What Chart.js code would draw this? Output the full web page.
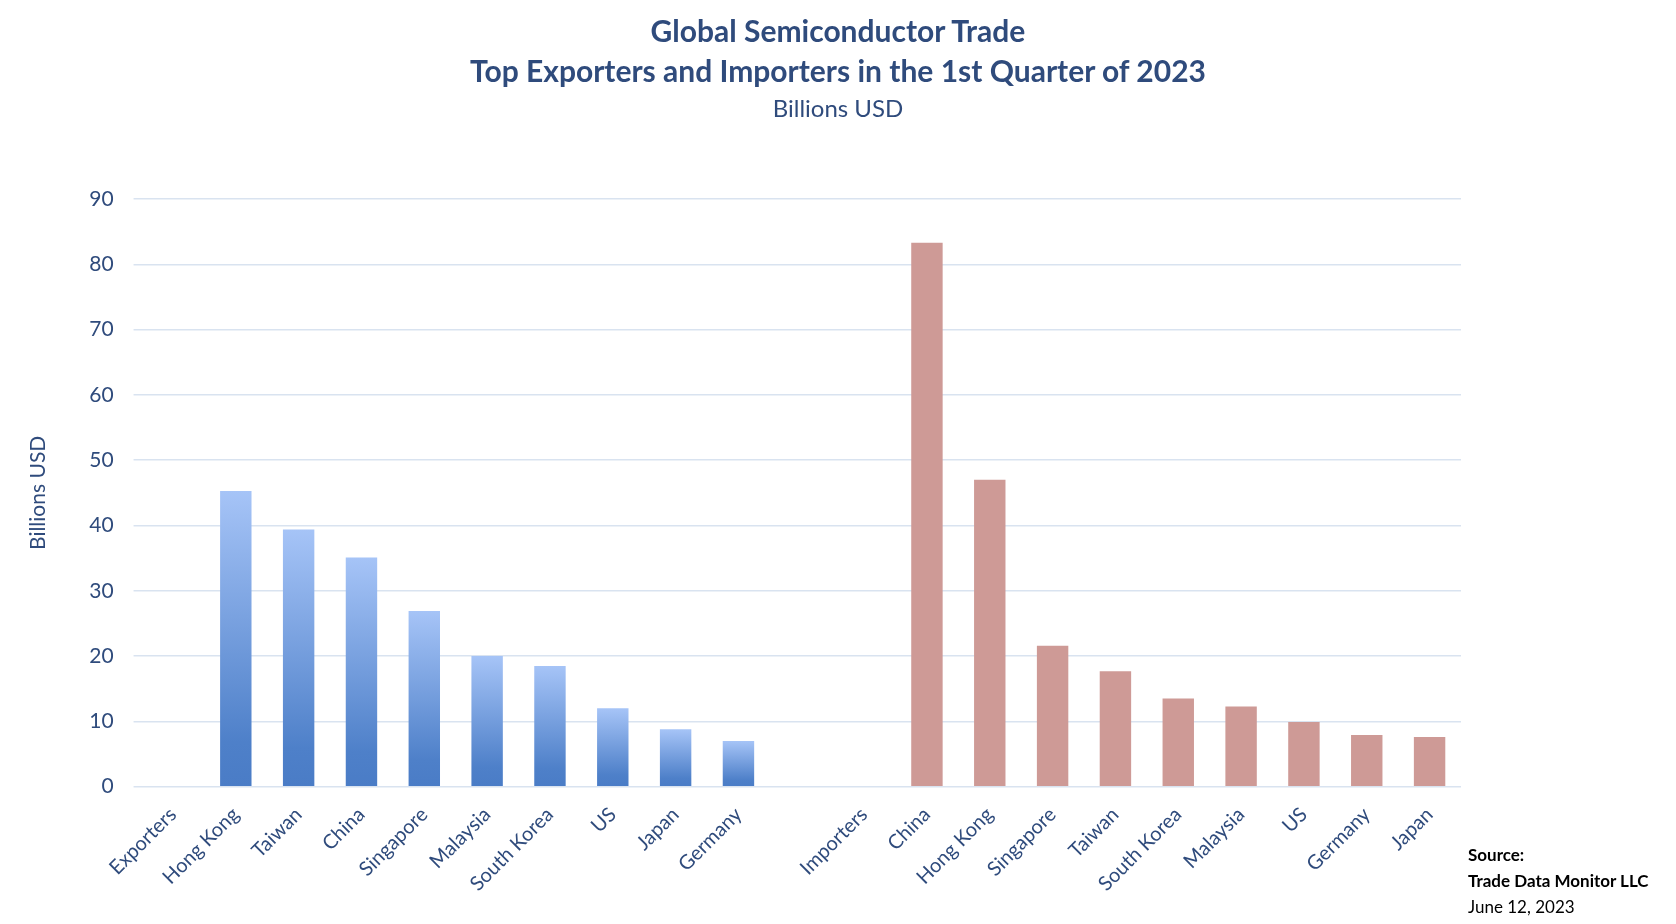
<!DOCTYPE html>
<html><head><meta charset="utf-8">
<script src="https://cdn.jsdelivr.net/npm/chart.js@4.4.0/dist/chart.umd.min.js"></script>
<style>
body{margin:0;background:#fff;font-family:Lato,sans-serif}
#wrap{position:relative;width:1676px;height:924px}
#src{position:absolute;left:1468px;top:842px;font-size:17px;color:#000;line-height:26px}
#ttl{position:absolute;left:0;width:1676px;top:10px;text-align:center;color:#2F4B7C}
#ttl .b{font-weight:bold;font-size:30px;line-height:40px}
#ttl .s{font-size:24px;line-height:36px}
</style></head><body>
<div id="wrap"><canvas id="c" width="1676" height="924"></canvas>
<div id="ttl"><div class="b">Global Semiconductor Trade</div><div class="b">Top Exporters and Importers in the 1st Quarter of 2023</div><div class="s">Billions USD</div></div>
<div id="src"><b>Source:</b><br><b>Trade Data Monitor LLC</b><br>June 12, 2023</div></div>
<script>
const categories=["Exporters","Hong Kong","Taiwan","China","Singapore","Malaysia","South Korea","US","Japan","Germany","","Importers","China","Hong Kong","Singapore","Taiwan","South Korea","Malaysia","US","Germany","Japan"];
const exportValues=[null,45.3,39.4,35.1,26.9,20.0,18.5,12.0,8.8,7.0,null,null,null,null,null,null,null,null,null,null,null];
const importValues=[null,null,null,null,null,null,null,null,null,null,null,null,83.3,47.0,21.6,17.7,13.5,12.3,9.9,7.9,7.6];
const yTicks=[0,10,20,30,40,50,60,70,80,90];
const values=categories.map((c,i)=>exportValues[i]!=null?exportValues[i]:importValues[i]);
const isExport=categories.map((c,i)=>exportValues[i]!=null);
const navy='#2F4B7C';
new Chart(document.getElementById('c'),{
 type:'bar',
 data:{labels:categories,datasets:[{data:values,
  backgroundColor:(ctx)=>{
   if(!isExport[ctx.dataIndex]) return '#CE9A96';
   const a=ctx.chart.chartArea, ys=ctx.chart.scales.y; if(!a||!ys) return '#7FA3E0';
   const top=ys.getPixelForValue(values[ctx.dataIndex]);
   const g=ctx.chart.ctx.createLinearGradient(0,top,0,a.bottom);
   g.addColorStop(0,'#A6C4F7');g.addColorStop(0.85,'#4E80C9');g.addColorStop(1,'#4A7CC6');return g;},
  barPercentage:0.5,categoryPercentage:1}]},
 options:{responsive:false,animation:false,
  layout:{padding:{left:22,right:215,top:199,bottom:20}},
  plugins:{legend:{display:false},tooltip:{enabled:false}},
  scales:{
   x:{grid:{display:false},border:{display:false},
    ticks:{color:navy,font:{family:'Lato',size:20},maxRotation:45,minRotation:45,autoSkip:false,padding:8}},
   y:{min:0,max:90,afterBuildTicks:(s)=>{s.ticks=yTicks.map(v=>({value:v}));},
    grid:{color:'#D9E3F0',lineWidth:1.5},border:{display:false},
    ticks:{color:navy,font:{family:'Lato',size:21},padding:20},
    title:{display:true,text:'Billions USD',color:navy,font:{family:'Lato',size:21},padding:{bottom:18}}}}
 }});
</script></body></html>
